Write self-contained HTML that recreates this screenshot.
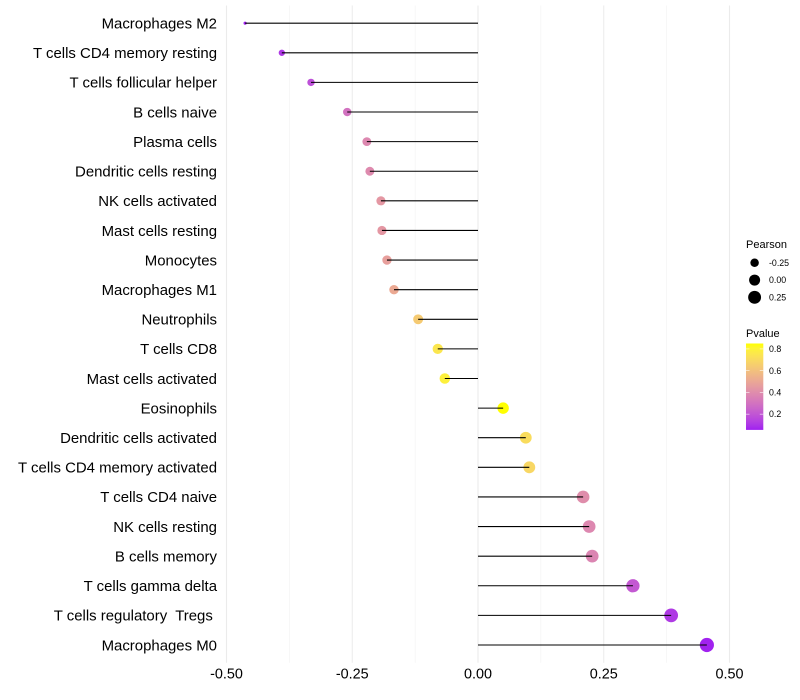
<!DOCTYPE html>
<html lang="en">
<head>
<meta charset="utf-8">
<title>Immune cell correlation lollipop chart</title>
<style>
  html, body { margin: 0; padding: 0; background: #fff; }
  body { width: 800px; height: 700px; overflow: hidden; }
  svg { display: block; font-family: "Liberation Sans", Arial, sans-serif; }
  text { white-space: pre; }
</style>
</head>
<body>
<svg id="chart" xmlns="http://www.w3.org/2000/svg" width="800" height="700" viewBox="0 0 800 700">
  <defs>
    <linearGradient id="pvalue-gradient" x1="0" y1="1" x2="0" y2="0"></linearGradient>
  </defs>
  <g id="grid"></g>
  <g id="points"></g>
  <g id="stems"></g>
  <g id="y-axis"></g>
  <g id="x-axis"></g>
  <g id="legend-size">
    <text x="746" y="248" font-size="11" fill="#000">Pearson</text>
  </g>
  <g id="legend-color">
    <text x="746" y="337" font-size="11" fill="#000">Pvalue</text>
    <rect x="746" y="343.5" width="17.3" height="86.4" fill="url(#pvalue-gradient)"></rect>
  </g>
</svg>
<script>
const cellTypes = ["Macrophages M2", "T cells CD4 memory resting", "T cells follicular helper", "B cells naive", "Plasma cells", "Dendritic cells resting", "NK cells activated", "Mast cells resting", "Monocytes", "Macrophages M1", "Neutrophils", "T cells CD8", "Mast cells activated", "Eosinophils", "Dendritic cells activated", "T cells CD4 memory activated", "T cells CD4 naive", "NK cells resting", "B cells memory", "T cells gamma delta", "T cells regulatory  Tregs ", "Macrophages M0"];
const pearsonValues = [-0.463, -0.390, -0.332, -0.260, -0.221, -0.215, -0.193, -0.191, -0.181, -0.167, -0.119, -0.080, -0.066, 0.050, 0.095, 0.102, 0.209, 0.221, 0.227, 0.308, 0.384, 0.455];
const pValues = [0.055, 0.11, 0.18, 0.30, 0.38, 0.39, 0.44, 0.44, 0.47, 0.51, 0.64, 0.75, 0.79, 0.85, 0.71, 0.69, 0.40, 0.38, 0.37, 0.21, 0.115, 0.058];
const xTicks = [-0.5, -0.25, 0, 0.25, 0.5];
const xMinorTicks = [-0.375, -0.125, 0.125, 0.375];
const xTickLabels = ["-0.50", "-0.25", "0.00", "0.25", "0.50"];
const sizeLegendValues = [-0.25, 0, 0.25];
const sizeLegendLabels = ["-0.25", "0.00", "0.25"];
const colorLegendValues = [0.2, 0.4, 0.6, 0.8];
const colorLegendLabels = ["0.2", "0.4", "0.6", "0.8"];

const NS = "http://www.w3.org/2000/svg";
const xScale = v => 478 + 503 * v;
const yScale = i => 23.18 + i * 29.61;
const PANEL_TOP = 5.5;
const PANEL_BOTTOM = 662.8;

const pMin = Math.min(...pValues);
const pMax = Math.max(...pValues);
const rMin = Math.min(...pearsonValues);
const rMax = Math.max(...pearsonValues);

function radius(r) {
  const t = Math.max(0, Math.min(1, (r - rMin) / (rMax - rMin)));
  const size = 1 + 5 * Math.sqrt(t);
  return (2.2 * size + 1) / 2;
}

function rgb2lab(c) {
  const f = u => { u /= 255; return u <= 0.04045 ? u / 12.92 : Math.pow((u + 0.055) / 1.055, 2.4); };
  const R = f(c[0]), G = f(c[1]), B = f(c[2]);
  const X = (0.4124 * R + 0.3576 * G + 0.1805 * B) / 0.95047;
  const Y = 0.2126 * R + 0.7152 * G + 0.0722 * B;
  const Z = (0.0193 * R + 0.1192 * G + 0.9505 * B) / 1.08883;
  const g = t => t > 0.008856 ? Math.cbrt(t) : 7.787 * t + 16 / 116;
  return [116 * g(Y) - 16, 500 * (g(X) - g(Y)), 200 * (g(Y) - g(Z))];
}

function lab2rgb(l) {
  const fy = (l[0] + 16) / 116, fx = fy + l[1] / 500, fz = fy - l[2] / 200;
  const g = t => t * t * t > 0.008856 ? t * t * t : (t - 16 / 116) / 7.787;
  const X = g(fx) * 0.95047, Y = g(fy), Z = g(fz) * 1.08883;
  const h = u => {
    const v = u <= 0.0031308 ? 12.92 * u : 1.055 * Math.pow(u, 1 / 2.4) - 0.055;
    return Math.round(Math.max(0, Math.min(1, v)) * 255);
  };
  return "rgb(" + h(3.2406 * X - 1.5372 * Y - 0.4986 * Z) + "," + h(-0.9689 * X + 1.8758 * Y + 0.0415 * Z) + "," + h(0.0557 * X - 0.204 * Y + 1.057 * Z) + ")";
}

const labLow = rgb2lab([160, 32, 240]);
const labHigh = rgb2lab([255, 255, 0]);
function colorAt(t) {
  t = Math.max(0, Math.min(1, t));
  return lab2rgb([0, 1, 2].map(k => labLow[k] + (labHigh[k] - labLow[k]) * t));
}
const pColor = p => colorAt((p - pMin) / (pMax - pMin));

function make(parent, tag, attrs, txt) {
  const el = document.createElementNS(NS, tag);
  for (const k in attrs) el.setAttribute(k, attrs[k]);
  if (txt !== undefined) el.textContent = txt;
  parent.appendChild(el);
  return el;
}

const gridG = document.getElementById("grid");
xMinorTicks.forEach(v => {
  const el = make(gridG, "line", { x1: xScale(v), x2: xScale(v), y1: PANEL_TOP, y2: PANEL_BOTTOM, stroke: "#f0f0f0", "stroke-width": 0.55 });
  
  
});
xTicks.forEach(v => {
  const el = make(gridG, "line", { x1: xScale(v), x2: xScale(v), y1: PANEL_TOP, y2: PANEL_BOTTOM, stroke: "#ebebeb", "stroke-width": 1.07 });
  
  
});

const pointsG = document.getElementById("points");
const stemsG = document.getElementById("stems");
const yAxisG = document.getElementById("y-axis");
cellTypes.forEach((name, i) => {
  const cx = xScale(pearsonValues[i]);
  const cy = yScale(i);
  const dot = make(pointsG, "circle", { cx: cx, cy: cy, r: radius(pearsonValues[i]), fill: pColor(pValues[i]) });
  
  
  const stem = make(stemsG, "line", { x1: xScale(0), x2: cx, y1: cy, y2: cy, stroke: "#000", "stroke-width": 1.07 });
  
  
  const label = make(yAxisG, "text", { x: 217, y: cy + 5.3, "text-anchor": "end", "font-size": 14.95, fill: "#000" }, name);
  
  
});

const xAxisG = document.getElementById("x-axis");
xTicks.forEach((v, i) => {
  const label = make(xAxisG, "text", { x: xScale(v), y: 678.5, "text-anchor": "middle", "font-size": 14.4, fill: "#000" }, xTickLabels[i]);
  
  
});

const sizeG = document.getElementById("legend-size");
sizeLegendValues.forEach((v, i) => {
  const y = 262.8 + i * 17.28;
  const dot = make(sizeG, "circle", { cx: 754.6, cy: y, r: radius(v), fill: "#000" });
  
  
  const label = make(sizeG, "text", { x: 769, y: y + 3.1, "font-size": 8.8, fill: "#000" }, sizeLegendLabels[i]);
  
  
});

const grad = document.getElementById("pvalue-gradient");
for (let s = 0; s <= 20; s++) {
  make(grad, "stop", { offset: (s * 5) + "%", "stop-color": colorAt(s / 20) });
}

const colorG = document.getElementById("legend-color");
const barBottom = 429.9, barHeight = 86.4;
colorLegendValues.forEach((v, i) => {
  const y = barBottom - (v - pMin) / (pMax - pMin) * barHeight;
  const t1 = make(colorG, "line", { x1: 746, x2: 749.5, y1: y, y2: y, stroke: "#fff", "stroke-width": 0.55 });
  
  
  const t2 = make(colorG, "line", { x1: 759.8, x2: 763.3, y1: y, y2: y, stroke: "#fff", "stroke-width": 0.55 });
  
  
  const label = make(colorG, "text", { x: 769, y: y + 3.1, "font-size": 8.8, fill: "#000" }, colorLegendLabels[i]);
  
  
});
</script>
</body>
</html>
